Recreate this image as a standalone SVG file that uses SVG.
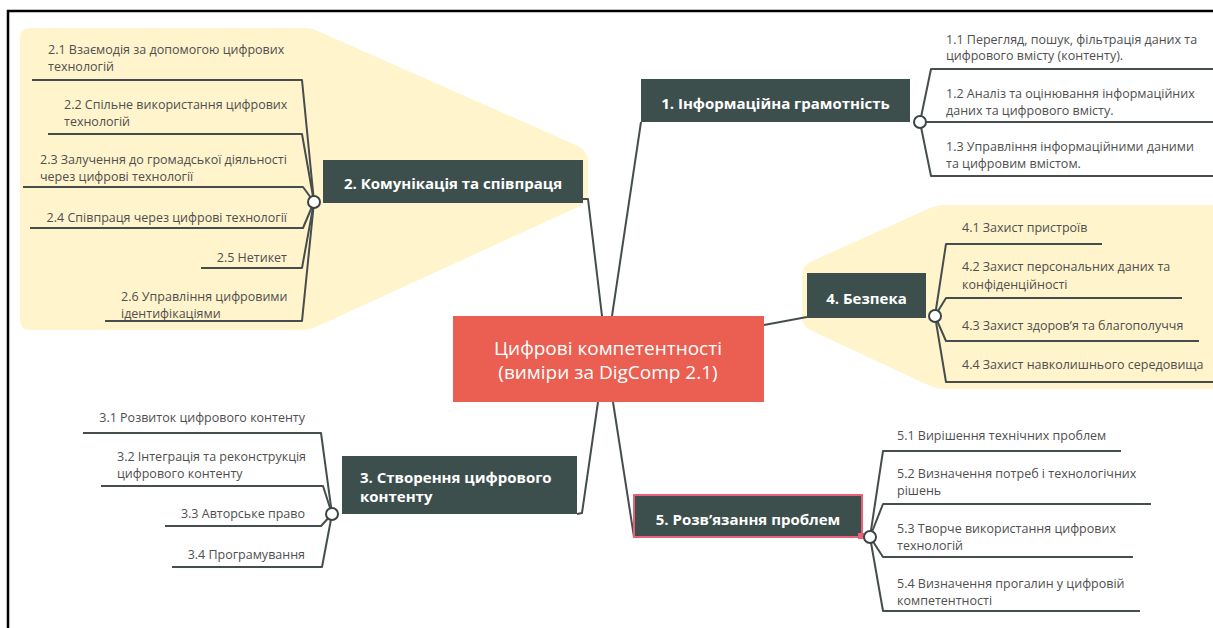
<svg xmlns="http://www.w3.org/2000/svg" width="1213" height="628" viewBox="0 0 1213 628">
<defs>
<style>
.bg{fill:#fff4cc;stroke:none}
.main{fill:#3d4f4d}
.mt{font-family:"Open Sans","Noto Sans",sans-serif;font-weight:bold;font-size:15px;fill:#ffffff}
.ct{font-family:"Open Sans","Noto Sans",sans-serif;font-size:19px;fill:#ffffff;text-anchor:middle}
.st{font-family:"Open Sans","Noto Sans",sans-serif;font-size:12.5px;fill:#4f4f4f}
.e{text-anchor:end}
.m{text-anchor:middle}
.ln{fill:none;stroke:#454d4d;stroke-width:2;stroke-linejoin:round}
.knob{fill:#ffffff;stroke:#3a4444;stroke-width:2}
</style>
</defs>
<rect width="1213" height="628" fill="#ffffff"/>
<path d="M8 628 L8 11 L1213 11" fill="none" stroke="#000" stroke-width="2.5"/>

<g id="backgrounds">
<path class="bg" d="M30 28 L305 28 Q312 28 320 32 L578 146 Q588 151 588 162 L588 192 Q588 202 578 207 L318 326 Q310 330 302 330 L30 330 Q20 330 20 320 L20 38 Q20 28 30 28 Z"/>
<path class="bg" d="M1213 205 L945 205 Q938 205 930 208 L810 262 Q802 266 802 276 L802 316 Q802 326 810 330 L930 386 Q938 389 945 389 L1213 389 Z"/>
</g>

<g id="connectors">
<polyline class="ln" points="602,316 588,199 583,199"/>
<line class="ln" x1="612" y1="316" x2="641" y2="122"/>
<line class="ln" x1="764" y1="325" x2="807" y2="317"/>
<polyline class="ln" points="598,402 582,513 577,514"/>
<line class="ln" x1="613" y1="402" x2="634" y2="537"/>

<polyline class="ln" points="920,122 931,69 1213,69"/>
<polyline class="ln" points="920,122 1213,122"/>
<polyline class="ln" points="920,122 931,176 1213,176"/>

<polyline class="ln" points="314,202 302,80 32,80"/>
<polyline class="ln" points="314,202 302,134 48,134"/>
<polyline class="ln" points="314,202 303,187 23,187"/>
<polyline class="ln" points="314,202 303,228 30,228"/>
<polyline class="ln" points="314,202 302,268 201,268"/>
<polyline class="ln" points="314,202 302,321 105,321"/>

<polyline class="ln" points="332,514 321,433 83,433"/>
<polyline class="ln" points="332,514 323,486 101,486"/>
<polyline class="ln" points="332,514 321,526 165,526"/>
<polyline class="ln" points="332,514 322,567 172,567"/>

<polyline class="ln" points="935,316 946,244 1102,244"/>
<polyline class="ln" points="935,316 946,298 1182,298"/>
<polyline class="ln" points="935,316 946,341 1199,341"/>
<polyline class="ln" points="935,316 946,382 1213,382"/>

<polyline class="ln" points="870,537 883,451 1121,451"/>
<polyline class="ln" points="870,537 883,504 1151,504"/>
<polyline class="ln" points="870,537 883,557 1133,557"/>
<polyline class="ln" points="870,537 883,611 1140,611"/>
</g>

<g id="central">
<rect x="453" y="316" width="311" height="86" fill="#ea5f52"/>
<text class="ct" x="608" y="355">Цифрові компетентності</text>
<text class="ct" x="608" y="379">(виміри за DigComp 2.1)</text>
</g>

<g id="node1">
<rect class="main" x="641" y="79" width="269" height="43"/>
<text class="mt m" x="775.5" y="109">1. Інформаційна грамотність</text>
<circle class="knob" cx="920" cy="122" r="6"/>
</g>
<g id="node1-children">
<text class="st" x="946" y="44">1.1 Перегляд, пошук, фільтрація даних та</text>
<text class="st" x="946" y="60">цифрового вмісту (контенту).</text>
<text class="st" x="946" y="98">1.2 Аналіз та оцінювання інформаційних</text>
<text class="st" x="946" y="115">даних та цифрового вмісту.</text>
<text class="st" x="946" y="151">1.3 Управління інформаційними даними</text>
<text class="st" x="946" y="168">та цифровим вмістом.</text>
</g>

<g id="node2">
<rect class="main" x="323" y="160" width="260" height="43"/>
<text class="mt m" x="453" y="189">2. Комунікація та співпраця</text>
<circle class="knob" cx="314" cy="202" r="6"/>
</g>
<g id="node2-children">
<text class="st" x="48" y="54">2.1 Взаємодія за допомогою цифрових</text>
<text class="st" x="48" y="71">технологій</text>
<text class="st" x="64" y="109">2.2 Спільне використання цифрових</text>
<text class="st" x="64" y="126">технологій</text>
<text class="st" x="40" y="164">2.3 Залучення до громадської діяльності</text>
<text class="st" x="40" y="181">через цифрові технології</text>
<text class="st e" x="287" y="222">2.4 Співпраця через цифрові технології</text>
<text class="st e" x="287" y="262">2.5 Нетикет</text>
<text class="st" x="121" y="301">2.6 Управління цифровими</text>
<text class="st" x="121" y="318">ідентифікаціями</text>
</g>

<g id="node3">
<rect class="main" x="342" y="456" width="235" height="58"/>
<text class="mt" x="360" y="483">3. Створення цифрового</text>
<text class="mt" x="360" y="502">контенту</text>
<circle class="knob" cx="332" cy="514" r="6"/>
</g>
<g id="node3-children">
<text class="st e" x="305" y="422">3.1 Розвиток цифрового контенту</text>
<text class="st" x="117" y="461">3.2 Інтеграція та реконструкція</text>
<text class="st" x="117" y="478">цифрового контенту</text>
<text class="st e" x="305" y="518">3.3 Авторське право</text>
<text class="st e" x="305" y="559">3.4 Програмування</text>
</g>

<g id="node4">
<rect class="main" x="807" y="273" width="119" height="45"/>
<text class="mt m" x="866.5" y="304">4. Безпека</text>
<circle class="knob" cx="935" cy="316" r="6"/>
</g>
<g id="node4-children">
<text class="st" x="962" y="232">4.1 Захист пристроїв</text>
<text class="st" x="962" y="271">4.2 Захист персональних даних та</text>
<text class="st" x="962" y="289">конфіденційності</text>
<text class="st" x="962" y="330">4.3 Захист здоров’я та благополуччя</text>
<text class="st" x="962" y="369">4.4 Захист навколишнього середовища</text>
</g>

<g id="node5">
<rect class="main" x="634" y="495" width="228" height="42" stroke="#e8607a" stroke-width="2"/>
<text class="mt m" x="748" y="525">5. Розв’язання проблем</text>
<rect x="858" y="533" width="6" height="6" fill="#e8607a"/>
<circle class="knob" cx="870" cy="537" r="6"/>
</g>
<g id="node5-children">
<text class="st" x="897" y="440">5.1 Вирішення технічних проблем</text>
<text class="st" x="897" y="478">5.2 Визначення потреб і технологічних</text>
<text class="st" x="897" y="495">рішень</text>
<text class="st" x="897" y="533">5.3 Творче використання цифрових</text>
<text class="st" x="897" y="550">технологій</text>
<text class="st" x="897" y="588">5.4 Визначення прогалин у цифровій</text>
<text class="st" x="897" y="605">компетентності</text>
</g>
</svg>
